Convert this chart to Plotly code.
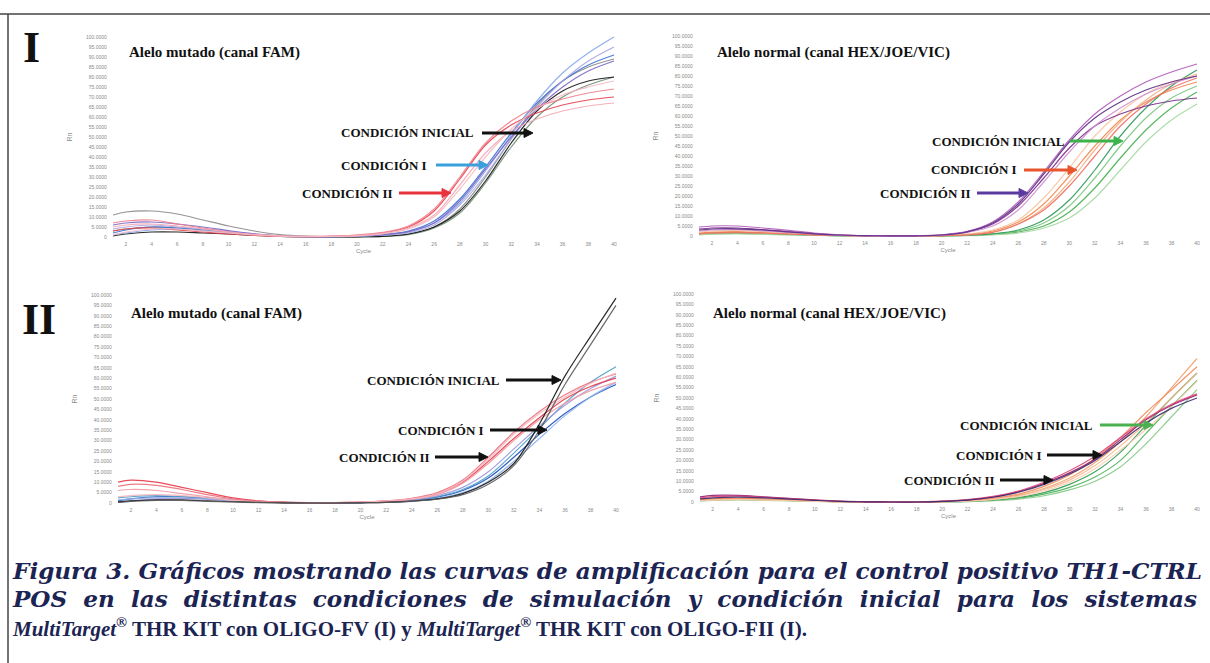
import plotly.graph_objects as go

W, H = 1210, 663

# ---------------- data ----------------
CYCLES = [1, 2, 4, 6, 8, 10, 12, 14, 16, 18, 20, 22, 24, 26, 28, 30, 32, 34, 36, 38, 40]
X_TICKS = [2, 4, 6, 8, 10, 12, 14, 16, 18, 20, 22, 24, 26, 28, 30, 32, 34, 36, 38, 40]
Y_TICKS = [0, 5, 10, 15, 20, 25, 30, 35, 40, 45, 50, 55, 60, 65, 70, 75, 80, 85, 90, 95, 100]
Y_TICK_TEXT = ["0", "5.0000", "10.0000", "15.0000", "20.0000", "25.0000", "30.0000",
               "35.0000", "40.0000", "45.0000", "50.0000", "55.0000", "60.0000",
               "65.0000", "70.0000", "75.0000", "80.0000", "85.0000", "90.0000",
               "95.0000", "100.0000"]

# Panel I - mutated allele (FAM)
I_FAM_COND_II = [
    [3, 4, 4.5, 3.5, 2.5, 1.5, 0.8, 0.3, 0.2, 0.3, 0.8, 2, 5, 13, 29, 46, 56, 62, 66, 68.5, 70],
    [7, 8, 8.5, 6.5, 4.5, 2.5, 1.2, 0.5, 0.3, 0.4, 1, 2.3, 5.5, 14, 30, 47, 58, 65, 69, 72, 74],
    [5, 6, 6.5, 5.5, 4, 2.5, 1.3, 0.6, 0.3, 0.3, 0.7, 1.8, 4.5, 11, 26, 42, 53, 59, 63, 65.5, 67],
    [1, 2.5, 4, 4, 3, 2, 1, 0.4, 0.2, 0.3, 0.6, 1.6, 4, 10, 24, 40, 54, 64, 71, 75, 78],
]
I_FAM_COND_I = [
    [2, 3.5, 5, 4.5, 3.5, 2.5, 1.3, 0.5, 0.2, 0.2, 0.5, 1.2, 3, 8, 19, 35, 52, 67, 78, 86, 91],
    [1, 2, 3.5, 4, 3.2, 2.2, 1.1, 0.4, 0.2, 0.2, 0.4, 1, 2.5, 7, 17, 33, 51, 68, 82, 92, 100],
    [4, 5, 6, 5, 4, 2.8, 1.5, 0.6, 0.2, 0.2, 0.4, 0.9, 2, 6, 16, 31, 49, 65, 78, 88, 95],
    [6, 7, 7.5, 6.5, 5, 3.2, 1.6, 0.6, 0.2, 0.2, 0.5, 1.1, 2.7, 7, 18, 34, 50, 64, 75, 83, 88],
]
I_FAM_COND_INI = [
    [11, 12.5, 13, 11.5, 8.5, 5.5, 3, 1.2, 0.4, 0.1, 0.1, 0.4, 1.5, 5, 14, 30, 49, 66, 78, 85, 89],
    [3, 4, 5, 4.5, 3.5, 2.5, 1.2, 0.4, 0.1, 0, 0.1, 0.3, 1.2, 4.5, 12, 27, 45, 60, 70, 76, 80],
    [0.5, 1.5, 2.5, 2.5, 2, 1.5, 0.8, 0.3, 0.1, 0, 0.1, 0.3, 1.5, 5, 13, 28, 47, 63, 73, 78, 80],
]

# Panel I - normal allele (HEX/JOE/VIC)
I_HEX_COND_II = [
    [3.5, 4, 4, 3.2, 2.2, 1.2, 0.5, 0.2, 0.1, 0.1, 0.5, 2, 6, 15, 29, 44, 55, 61, 65, 67.5, 69],
    [4.5, 5, 5, 4, 2.8, 1.5, 0.6, 0.2, 0.1, 0.1, 0.6, 2.3, 7, 17, 32, 48, 61, 70, 77, 82, 86],
    [2.5, 3, 3.2, 2.6, 1.8, 1, 0.4, 0.1, 0, 0.1, 0.4, 1.8, 5, 13, 27, 42, 55, 64, 71, 76, 80],
    [3, 3.5, 3.6, 3, 2, 1.1, 0.5, 0.2, 0.1, 0.1, 0.5, 2.1, 6.5, 16, 31, 47, 59, 67, 73, 77, 80],
]
I_HEX_COND_I = [
    [1.5, 2, 2.2, 1.8, 1.2, 0.7, 0.3, 0.1, 0, 0, 0.2, 0.8, 2.5, 7, 16, 30, 45, 58, 67, 73, 77],
    [1, 1.5, 1.7, 1.4, 1, 0.6, 0.3, 0.1, 0, 0, 0.2, 0.7, 2, 6, 14, 27, 43, 57, 68, 76, 81],
    [2, 2.5, 2.7, 2.2, 1.5, 0.8, 0.4, 0.1, 0, 0, 0.3, 1, 3, 8, 19, 34, 50, 62, 71, 77, 80],
    [1.2, 1.6, 1.8, 1.5, 1, 0.6, 0.3, 0.1, 0, 0, 0.2, 0.6, 1.8, 6, 13, 25, 40, 55, 66, 74, 79],
]
I_HEX_COND_INI = [
    [1, 1.3, 1.5, 1.2, 0.8, 0.5, 0.2, 0.1, 0, 0, 0.1, 0.3, 0.8, 2, 5, 12, 24, 39, 53, 64, 72],
    [0.8, 1.1, 1.3, 1, 0.7, 0.4, 0.2, 0.1, 0, 0, 0.1, 0.3, 1, 2.5, 6.5, 15, 29, 45, 59, 69, 75],
    [0.6, 0.9, 1, 0.8, 0.6, 0.3, 0.1, 0, 0, 0, 0.1, 0.2, 0.6, 1.5, 4, 9, 19, 33, 47, 58, 66],
    [1.2, 1.5, 1.7, 1.4, 0.9, 0.5, 0.2, 0.1, 0, 0, 0.1, 0.4, 1.1, 3, 8, 18, 33, 50, 64, 75, 83],
]

# Panel II - mutated allele (FAM)
II_FAM_COND_II = [
    [10, 11, 10, 7.5, 5, 2.5, 1, 0.4, 0.2, 0.2, 0.4, 0.9, 2, 4.5, 10, 20, 31, 41, 50, 56, 60],
    [8, 9, 8.5, 6.5, 4, 2, 0.8, 0.3, 0.2, 0.2, 0.4, 1, 2.3, 5, 11, 22, 34, 44, 52, 58, 62],
    [6, 6.5, 6, 4.5, 3, 1.5, 0.6, 0.2, 0.1, 0.2, 0.4, 0.9, 1.8, 4, 9.5, 19, 30, 40, 48, 54, 58],
    [3, 3.5, 4, 3.5, 2.5, 1.3, 0.5, 0.2, 0.1, 0.2, 0.4, 1, 2, 4.5, 10.5, 21, 33, 43, 51, 57.5, 62.5],
]
II_FAM_COND_I = [
    [1, 2, 3, 3, 2.5, 1.5, 0.7, 0.3, 0.1, 0.1, 0.2, 0.5, 1.2, 2.8, 6, 12, 22, 33, 43, 51, 57],
    [2.5, 3, 3.5, 3, 2.2, 1.3, 0.6, 0.2, 0.1, 0.1, 0.2, 0.5, 1.3, 3, 6.5, 13, 24, 36, 48, 58, 65.5],
    [1.5, 2, 2.5, 2.3, 1.8, 1.1, 0.5, 0.2, 0.1, 0.1, 0.2, 0.4, 1, 2.3, 5, 10.5, 20, 31, 42, 51, 58],
    [0.5, 1, 2, 2.2, 1.8, 1.1, 0.5, 0.2, 0.1, 0.1, 0.2, 0.6, 1.5, 3.5, 7.5, 15, 26, 37, 47, 55, 61],
]
II_FAM_COND_INI = [
    [0.5, 1, 1.5, 1.5, 1, 0.6, 0.3, 0.1, 0, 0, 0.1, 0.3, 0.9, 2, 4.5, 10, 19, 38, 61, 80, 98.5],
    [0.3, 0.8, 1.2, 1.2, 0.8, 0.5, 0.2, 0.1, 0, 0, 0.1, 0.3, 0.8, 1.8, 4, 9, 18, 35, 57, 76, 95],
]

# Panel II - normal allele (HEX/JOE/VIC)
II_HEX_COND_II = [
    [2.5, 3.2, 3.2, 2.5, 1.8, 1, 0.4, 0.1, 0, 0, 0.3, 1, 2.5, 5, 9, 14, 20.5, 30, 39.5, 46.5, 51.5],
    [2, 2.6, 2.8, 2.3, 1.6, 0.9, 0.3, 0.1, 0, 0, 0.4, 1.1, 2.7, 5.3, 9.5, 15, 22, 31, 40, 47, 52],
    [1.5, 2, 2.3, 2, 1.4, 0.8, 0.3, 0.1, 0, 0, 0.3, 0.9, 2.3, 4.7, 8.5, 13.5, 20, 29, 38, 45, 50],
]
II_HEX_COND_I = [
    [1, 1.4, 1.6, 1.3, 0.9, 0.5, 0.2, 0.1, 0, 0, 0.2, 0.6, 1.5, 3.2, 6.5, 11.5, 19, 29, 41, 55, 69],
    [0.8, 1.1, 1.3, 1.1, 0.8, 0.4, 0.2, 0, 0, 0, 0.2, 0.5, 1.3, 3, 6, 10.5, 17.5, 27, 38, 50, 62],
    [1.2, 1.6, 1.8, 1.5, 1, 0.6, 0.2, 0.1, 0, 0, 0.2, 0.7, 1.8, 3.8, 7.5, 13, 21, 31, 43, 54, 65],
    [0.6, 0.9, 1.1, 0.9, 0.6, 0.3, 0.1, 0, 0, 0, 0.1, 0.4, 1.2, 2.6, 5.3, 9.5, 16, 25, 35, 46, 58],
]
II_HEX_COND_INI = [
    [0.8, 1, 1.2, 1, 0.7, 0.4, 0.2, 0, 0, 0, 0.1, 0.3, 0.8, 1.8, 3.8, 7, 12, 20, 33, 46, 58.5],
    [0.5, 0.8, 1, 0.8, 0.6, 0.3, 0.1, 0, 0, 0, 0.1, 0.2, 0.6, 1.4, 3, 5.8, 10, 17, 28, 41, 54],
    [1, 1.2, 1.4, 1.2, 0.8, 0.5, 0.2, 0, 0, 0, 0.1, 0.3, 1, 2.2, 4.5, 8.5, 14.5, 24, 37, 50, 62],
]

PANEL_TITLES = ["Alelo mutado (canal FAM)", "Alelo normal (canal HEX/JOE/VIC)",
                "Alelo mutado (canal FAM)", "Alelo normal (canal HEX/JOE/VIC)"]
COND_LABELS = ["CONDICIÓN INICIAL", "CONDICIÓN I", "CONDICIÓN II"]
ROMAN = ["I", "II"]
CAPTION_1 = "Figura 3. Gráficos mostrando las curvas de amplificación para el control positivo TH1-CTRL"
CAPTION_2 = "POS en las distintas condiciones de simulación y condición inicial para los sistemas"

# ---------------- layout geometry (pixels) ----------------
# (cycle1 px, cycle40 px, value0 px, value100 px)
GEOM = [(113, 614, 237, 37), (699, 1197, 236, 36), (118, 616, 503, 295), (700, 1197, 502, 294)]

def px_x(p):
    return p / W

def px_y(p):
    return 1 - p / H

fig = go.Figure()

panel_series = [
    [(I_FAM_COND_INI, ["#8a8a8a", "#6f8f72", "#151515"]),
     (I_FAM_COND_I, ["#3d72d6", "#86a9ea", "#a9a6e3", "#7c68c6"]),
     (I_FAM_COND_II, ["#e8414c", "#f07f8d", "#f4a9b4", "#f5b9c3"])],
    [(I_HEX_COND_INI, ["#45b04f", "#7cc67f", "#a7d9a2", "#2f9a5a"]),
     (I_HEX_COND_I, ["#f2884f", "#f6ad82", "#f8c6a4", "#ee7062"]),
     (I_HEX_COND_II, ["#7b2a8c", "#b25bb8", "#cf8fd0", "#5b2d85"])],
    [(II_FAM_COND_I, ["#2050c0", "#4aa0c8", "#8fb3ea", "#9d98de"]),
     (II_FAM_COND_II, ["#e63946", "#ee6f7d", "#f29aa5", "#f6b8c0"]),
     (II_FAM_COND_INI, ["#111111", "#5a5a5a"])],
    [(II_HEX_COND_INI, ["#4db35a", "#86c98a", "#2f9a52"]),
     (II_HEX_COND_I, ["#f3a070", "#f6b98e", "#f08a5a", "#f8cdb0"]),
     (II_HEX_COND_II, ["#8e1f6f", "#e0457b", "#3a2a6e"])],
]

tick_font = dict(size=5, color="#8a8a8a", family="Liberation Sans")
title_font = dict(size=6, color="#8a8a8a", family="Liberation Sans")

layout_axes = {}
for i, (c1, c40, v0, v100) in enumerate(GEOM):
    ppc = (c40 - c1) / 39.0
    ppu = (v0 - v100) / 100.0
    xr = [0.6, 40.4]
    yr = [-1.5, 101.5]
    left = c1 + (xr[0] - 1) * ppc
    right = c1 + (xr[1] - 1) * ppc
    bottom = v0 - yr[0] * ppu
    top = v0 - yr[1] * ppu
    sfx = "" if i == 0 else str(i + 1)
    layout_axes["xaxis" + sfx] = dict(
        domain=[px_x(left), px_x(right)], range=xr, anchor="y" + sfx,
        tickvals=X_TICKS, ticktext=[str(t) for t in X_TICKS], tickfont=tick_font,
        title=dict(text="Cycle", font=title_font, standoff=2),
        showgrid=False, zeroline=False, showline=False, ticks="")
    layout_axes["yaxis" + sfx] = dict(
        domain=[px_y(bottom), px_y(top)], range=yr, anchor="x" + sfx,
        tickvals=Y_TICKS, ticktext=Y_TICK_TEXT, tickfont=tick_font,
        title=dict(text="Rn", font=dict(size=7, color="#8a8a8a", family="Liberation Sans"),
                   standoff=12),
        showgrid=False, zeroline=False, showline=False, ticks="")
    for series, colors in panel_series[i]:
        for j, ys in enumerate(series):
            fig.add_trace(go.Scatter(
                x=CYCLES, y=ys, mode="lines", xaxis="x" + sfx, yaxis="y" + sfx,
                line=dict(color=colors[j % len(colors)], width=1.2, shape="spline", smoothing=0.9),
                opacity=0.9, hoverinfo="skip", showlegend=False))

annotations = []
shapes = []

def text_ann(txt, x, y, size, color="#111111", family="Liberation Serif",
             xanchor="left", angle=0):
    annotations.append(dict(text=txt, x=px_x(x), y=px_y(y), xref="paper", yref="paper",
                            xanchor=xanchor, yanchor="middle", showarrow=False,
                            textangle=angle, font=dict(size=size, color=color, family=family)))

def arrow_shape(x0, x1, y, color):
    head = 9
    half = 4.5
    shapes.append(dict(type="line", xref="paper", yref="paper",
                       x0=px_x(x0), x1=px_x(x1 - head + 1), y0=px_y(y), y1=px_y(y),
                       line=dict(color=color, width=3)))
    path = "M {:.5f},{:.5f} L {:.5f},{:.5f} L {:.5f},{:.5f} Z".format(
        px_x(x1), px_y(y), px_x(x1 - head), px_y(y - half), px_x(x1 - head), px_y(y + half))
    shapes.append(dict(type="path", xref="paper", yref="paper", path=path,
                       fillcolor=color, line=dict(color=color, width=1)))

# panel titles
title_pos = [(127, 53), (715, 53), (129, 313), (711, 313)]
for t, (x, y) in zip(PANEL_TITLES, title_pos):
    text_ann("<b>" + t + "</b>", x, y, 15)

# condition labels + arrows: (label x, y, arrow x0, x1, color)
cond_specs = [
    [(339, 133, 482, 533, "#111111"), (339, 165, 436, 488, "#3aa0dc"), (300, 193, 399, 451, "#e8323c")],
    [(930, 141, 1070, 1123, "#3cb44b"), (929, 170, 1024, 1077, "#e8552c"), (878, 193, 977, 1028, "#5b3aa0")],
    [(365, 380, 506, 561, "#111111"), (396, 430, 490, 547, "#111111"), (337, 457, 435, 488, "#111111")],
    [(958, 425, 1100, 1153, "#4cb04f"), (954, 455, 1047, 1102, "#111111"), (902, 480, 1000, 1053, "#111111")],
]
for specs in cond_specs:
    for lab, (lx, ly, a0, a1, col) in zip(COND_LABELS, specs):
        text_ann("<b>" + lab + "</b>", lx, ly, 13)
        arrow_shape(a0, a1, ly, col)

# roman numerals
text_ann("<b>" + ROMAN[0] + "</b>", 31, 48, 44, xanchor="center")
text_ann("<b>" + ROMAN[1] + "</b>", 39, 319, 44, xanchor="center")

# caption
cap_col = "#1b2452"
text_ann("<b><i>" + CAPTION_1 + "</i></b>", 10, 570, 23.1, color=cap_col, family="DejaVu Serif")
text_ann("<b><i>" + CAPTION_2.replace(" ", "\u2002\u2009") + "</i></b>", 10, 598, 23.1,
         color=cap_col, family="DejaVu Serif")
text_ann("<b><i>MultiTarget<sup>®</sup></i> THR KIT con OLIGO-FV (I) y <i>MultiTarget<sup>®</sup></i>"
         " THR KIT con OLIGO-FII (I).</b>", 10, 627, 21, color=cap_col, family="Liberation Serif")

shapes += [
    dict(type="line", xref="paper", yref="paper", x0=0, x1=1, y0=px_y(14), y1=px_y(14),
         line=dict(color="#444444", width=1.5)),
    dict(type="line", xref="paper", yref="paper", x0=px_x(8), x1=px_x(8), y0=px_y(14), y1=0,
         line=dict(color="#444444", width=1.5)),
]

fig.update_layout(
    width=W, height=H, autosize=False,
    margin=dict(l=0, r=0, t=0, b=0),
    paper_bgcolor="white", plot_bgcolor="white",
    showlegend=False, annotations=annotations, shapes=shapes,
    **layout_axes)

fig.write_html("out.html")
